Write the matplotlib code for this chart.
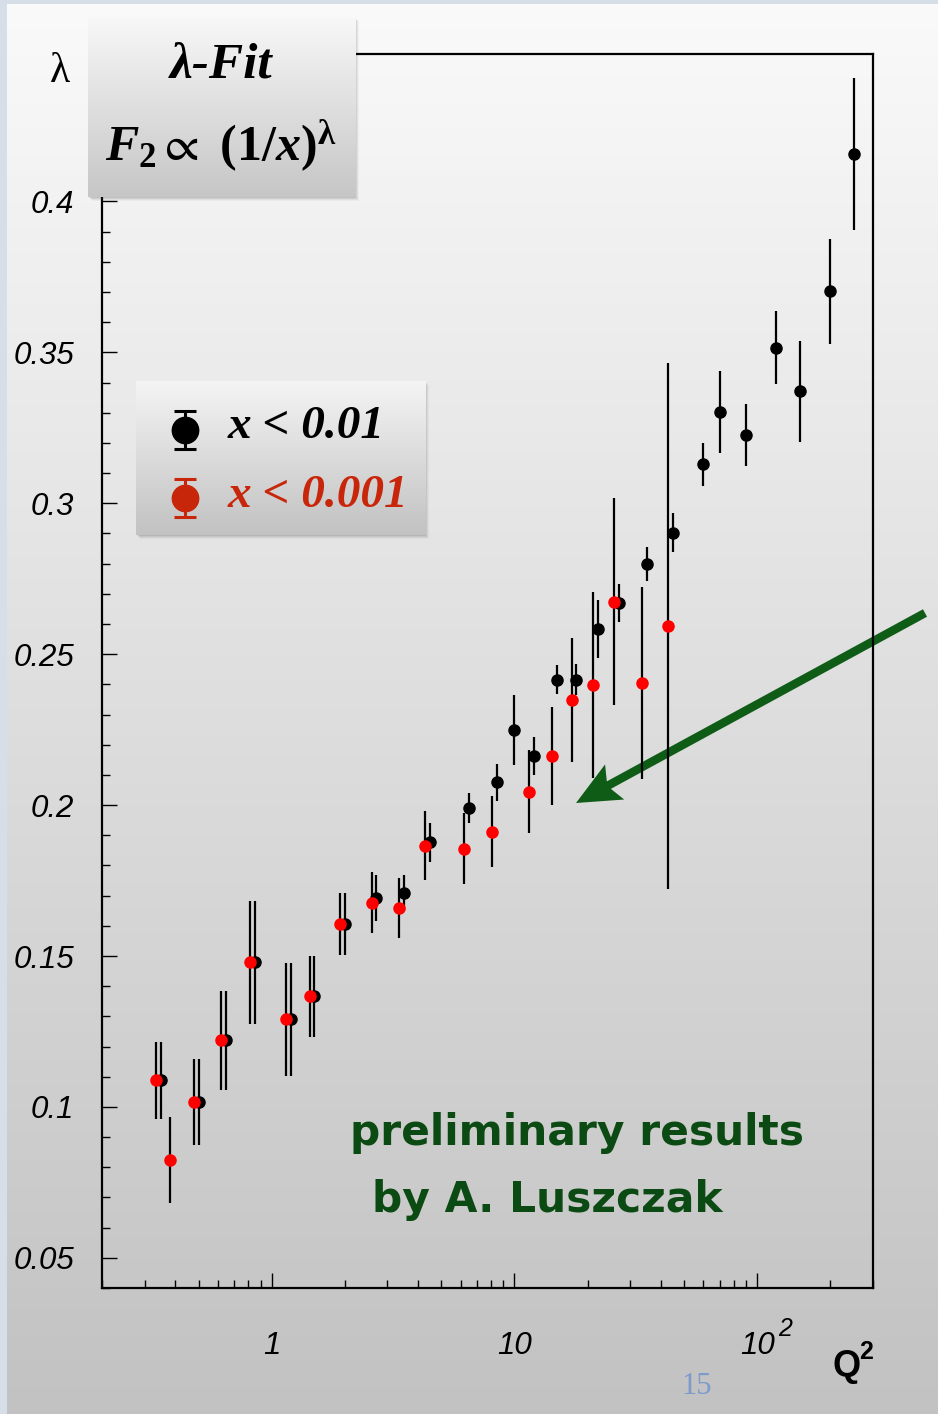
import numpy as np
import matplotlib
matplotlib.use('Agg')
import matplotlib.pyplot as plt
import matplotlib.ticker as ticker
from matplotlib.colors import LinearSegmentedColormap
from matplotlib.patches import Rectangle, FancyArrow

# x < 0.01 (black)
q2_a = [0.35, 0.5, 0.65, 0.85, 1.2, 1.5, 2.0, 2.7, 3.5, 4.5, 6.5, 8.5, 10, 12,
        15, 18, 22, 27, 35, 45, 60, 70, 90, 120, 150, 200, 250]
lam_a = [0.1088, 0.1017, 0.1221, 0.1479, 0.1291, 0.1366, 0.1606, 0.1692, 0.1709,
         0.1877, 0.1991, 0.2075, 0.2249, 0.2162, 0.2416, 0.2416, 0.2584, 0.2669,
         0.2799, 0.2903, 0.3129, 0.3303, 0.3227, 0.3516, 0.3371, 0.3702, 0.4157]
err_a = [0.0128, 0.0143, 0.0164, 0.0203, 0.0187, 0.0134, 0.0103, 0.0076, 0.0061,
         0.0064, 0.0050, 0.0060, 0.0115, 0.0063, 0.0049, 0.0050, 0.0095, 0.0063,
         0.0057, 0.0064, 0.0072, 0.0135, 0.0102, 0.0122, 0.0167, 0.0173, 0.0253]

# x < 0.001 (red)
q2_b = [0.35, 0.4, 0.5, 0.65, 0.85, 1.2, 1.5, 2.0, 2.7, 3.5, 4.5, 6.5, 8.5, 12,
        15, 18, 22, 27, 35, 45]
lam_b = [0.1088, 0.0823, 0.1017, 0.1221, 0.1479, 0.1291, 0.1366, 0.1606, 0.1677,
         0.1659, 0.1866, 0.1855, 0.1912, 0.2044, 0.2163, 0.2349, 0.2398, 0.2674,
         0.2406, 0.2594]
err_b = [0.0128, 0.0143, 0.0143, 0.0164, 0.0203, 0.0187, 0.0134, 0.0103, 0.0102,
         0.0098, 0.0115, 0.0118, 0.0118, 0.0137, 0.0163, 0.0206, 0.0307, 0.0343,
         0.0318, 0.0871]

xtick_pos = [1, 10, 100]
xtick_labels = ['1', '10', '10']
ytick_pos = [0.05, 0.1, 0.15, 0.2, 0.25, 0.3, 0.35, 0.4]

plt.rcParams['font.family'] = ['Liberation Sans', 'DejaVu Sans']
plt.rcParams['mathtext.fontset'] = 'custom'
plt.rcParams['mathtext.rm'] = 'Liberation Serif:bold'
plt.rcParams['mathtext.it'] = 'Liberation Serif:italic:bold'
plt.rcParams['mathtext.bf'] = 'Liberation Serif:bold'
plt.rcParams['mathtext.fallback'] = 'stix'

W, H = 938, 1414
fig = plt.figure(figsize=(W / 100, H / 100), dpi=100)


def fx(px):
    return px / W


def fy(py):
    return 1 - py / H


def gradient_axes(x0, y0, x1, y1, top, bottom, zorder):
    # axes in pixel units (y down) filled with a vertical gradient
    a = fig.add_axes([fx(x0), fy(y1), fx(x1 - x0), (y1 - y0) / H], zorder=zorder)
    cmap = LinearSegmentedColormap.from_list('g', [bottom, top])
    grad = np.linspace(1, 0, 256).reshape(-1, 1)
    a.imshow(grad, aspect='auto', cmap=cmap, vmin=0, vmax=1,
             extent=[0, x1 - x0, y1 - y0, 0])
    a.set_xlim(0, x1 - x0)
    a.set_ylim(y1 - y0, 0)
    a.axis('off')
    return a


def shadow(x0, y0, x1, y1, zorder):
    for i, al in enumerate([0.10, 0.08, 0.06, 0.04]):
        d = i + 1
        fig.patches.append(Rectangle((fx(x0 + d), fy(y1 + d)), fx(x1 - x0), (y1 - y0) / H,
                                     transform=fig.transFigure, color='#303030',
                                     alpha=al, lw=0, zorder=zorder))


# slide background
bg = gradient_axes(0, 0, W, H, '#fafafa', '#c2c2c2', -10)
bg.add_patch(Rectangle((0, 0), 7, H, color='#d6dee8', lw=0))
bg.add_patch(Rectangle((0, 0), W, 4, color='#d6dee8', lw=0))
bg.add_patch(FancyArrow(925, 613, 576 - 925, 803 - 613, width=8.5, head_width=40,
                        head_length=44, overhang=0.15, length_includes_head=True,
                        color='#0e5c16', lw=0))

# main plot
ax = fig.add_axes([fx(102), fy(1288), fx(873 - 102), (1288 - 53.6) / H], zorder=0)
ax.patch.set_alpha(0)
ax.set_xscale('log')

ax.errorbar(q2_a, lam_a, yerr=err_a, fmt='o', color='black', ms=8, elinewidth=1.6,
            capsize=0, zorder=3)
# red points drawn slightly shifted in Q2 so both sets are visible
q2_b_shifted = [q * 0.955 for q in q2_b]
ax.errorbar(q2_b_shifted, lam_b, yerr=err_b, fmt='o', color='#ff0000', ecolor='black',
            ms=8, elinewidth=1.6, capsize=0, zorder=4)

ax.set_xlim(0.2, 300)
ax.set_ylim(0.04, 0.449)

ax.xaxis.set_major_locator(ticker.FixedLocator(xtick_pos))
ax.xaxis.set_major_formatter(ticker.FixedFormatter(xtick_labels))
ax.xaxis.set_minor_locator(ticker.LogLocator(base=10, subs=np.arange(2, 10)))
ax.xaxis.set_minor_formatter(ticker.NullFormatter())
ax.yaxis.set_major_locator(ticker.FixedLocator(ytick_pos))
ax.yaxis.set_major_formatter(ticker.FuncFormatter(lambda v, p: f'{v:g}'))
ax.yaxis.set_minor_locator(ticker.MultipleLocator(0.01))

ax.tick_params(which='both', direction='in', top=False, right=False, width=1.0)
ax.tick_params(which='major', length=11)
ax.tick_params(which='minor', length=5.5)
ax.tick_params(axis='y', which='major', pad=20, labelsize=22.5)
ax.tick_params(axis='x', which='major', pad=31, labelsize=22.5)
for lab in ax.get_xticklabels() + ax.get_yticklabels():
    lab.set_fontstyle('italic')
for sp in ax.spines.values():
    sp.set_linewidth(1.6)

# exponent of the 10^2 label
ax.annotate('2', xy=(100, 0), xycoords=('data', 'axes fraction'), xytext=(15, -38),
            textcoords='offset points', fontsize=18, fontstyle='italic', va='bottom')

fig.text(fx(60), fy(72), 'λ', fontsize=30, ha='center', va='center',
         family=['Liberation Serif'])
fig.text(fx(832), fy(1366), 'Q', fontsize=26, fontweight='bold', ha='left', va='center')
fig.text(fx(859), fy(1352), '2', fontsize=18, fontweight='bold', ha='left', va='center')

# title box
shadow(88, 17, 355, 197, 4)
tb = gradient_axes(88, 17, 355, 197, '#f8f8f8', '#c6c6c6', 5)
tb.text(133, 49, 'λ-Fit', fontsize=37, fontweight='bold',
        fontstyle='italic', family=['Liberation Serif', 'DejaVu Serif'],
        ha='center', va='center')
tb.text(133, 128, r'$\mathit{F}_{\mathrm{2}}\propto\ \mathit{(1/x)}^{\mathrm{\lambda}}$',
        fontsize=36, ha='center', va='center')

# legend box
shadow(136, 381, 425, 535, 4)
lb = gradient_axes(136, 381, 425, 535, '#f4f4f4', '#c2c2c2', 5)
lb.errorbar([49], [49], yerr=[19], fmt='o', color='black', ms=19,
            elinewidth=2.2, capsize=8, capthick=2.2)
lb.errorbar([49], [117], yerr=[19], fmt='o', color='#c8260a', ms=19,
            elinewidth=2.2, capsize=8, capthick=2.2)
lb.text(92, 46, 'x < 0.01', fontsize=34, fontweight='bold', fontstyle='italic',
        family=['Liberation Serif', 'DejaVu Serif'], ha='left', va='center', color='black')
lb.text(92, 115, 'x < 0.001', fontsize=34, fontweight='bold', fontstyle='italic',
        family=['Liberation Serif', 'DejaVu Serif'], ha='left', va='center', color='#c8260a')

# annotation
fig.text(fx(350), fy(1133), 'preliminary results', fontsize=30.5, fontweight='bold',
         color='#0b4a12', family=['DejaVu Sans'], ha='left', va='center')
fig.text(fx(372), fy(1200), 'by A. Luszczak', fontsize=30.5, fontweight='bold',
         color='#0b4a12', family=['DejaVu Sans'], ha='left', va='center')

fig.text(fx(697), fy(1387), '15', fontsize=22, color='#7b9bcc',
         family=['Liberation Serif'], ha='center', va='center')

fig.savefig('out.png', dpi=100)
